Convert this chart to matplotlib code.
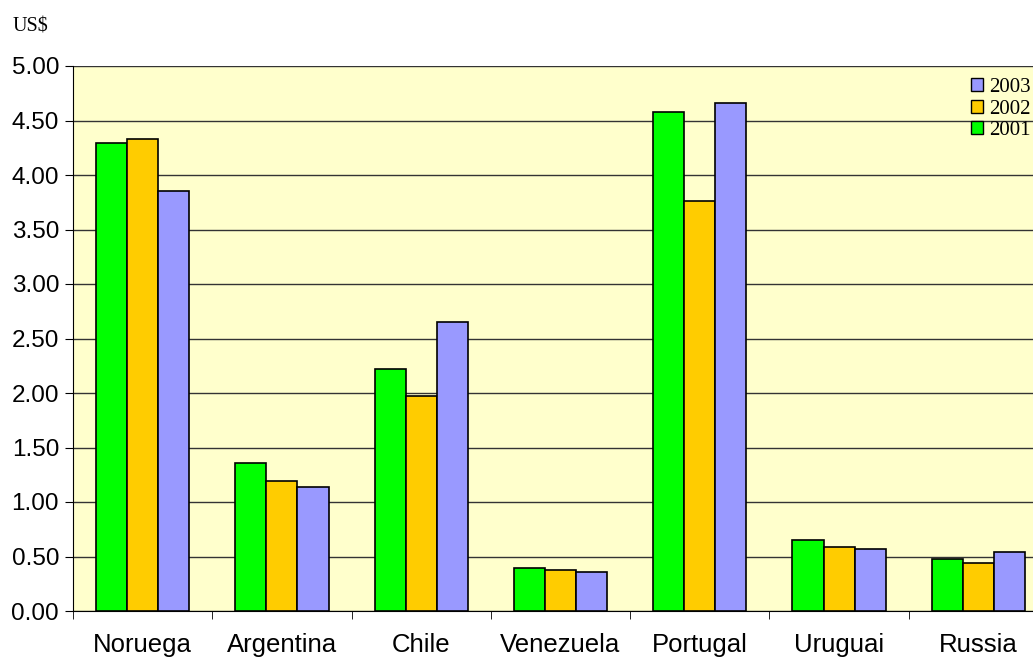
import numpy as np
import matplotlib.pyplot as plt
from matplotlib.patches import Patch

# =====================================
# DATA
# =====================================

countries = ["Noruega", "Argentina", "Chile", "Venezuela", "Portugal", "Uruguai", "Russia"]
years = ["2001", "2002", "2003"]

v2001 = [4.29, 1.36, 2.22, 0.39, 4.58, 0.65, 0.48]
v2002 = [4.33, 1.19, 1.97, 0.38, 3.76, 0.59, 0.44]
v2003 = [3.85, 1.14, 2.65, 0.36, 4.66, 0.57, 0.54]

colors = ["#00FF00", "#FFCC00", "#9999FF"]
yticks = np.arange(0, 5.01, 0.5)

# =====================================
# PLOT
# =====================================

fig = plt.figure(figsize=(10.33, 6.57), dpi=100)
ax = fig.add_axes([73/1033, 46/657, 975/1033, 545/657])
ax.set_facecolor("#FFFFCC")

x = np.arange(len(countries))
w = 0.223
for k, (vals, c) in enumerate(zip([v2001, v2002, v2003], colors)):
    ax.bar(x + (k - 1) * w, vals, width=w, color=c, edgecolor="black",
           linewidth=1.2, zorder=3)

ax.set_xlim(-0.5, len(countries) - 0.5)
ax.set_ylim(0, 5)
ax.set_yticks(yticks)
ax.set_yticklabels(["%.2f" % t for t in yticks], fontsize=17.5, family="Liberation Sans")
ax.yaxis.grid(True, color="#333333", linewidth=1, zorder=0)

ax.set_xticks(x)
ax.set_xticklabels(countries, fontsize=18.5, family="Liberation Sans")
ax.tick_params(axis="x", which="major", length=0, pad=16)
ax.set_xticks(np.arange(len(countries)) - 0.5, minor=True)
ax.tick_params(axis="x", which="minor", length=6, color="black")
ax.tick_params(axis="y", length=6, color="black", pad=4)

for s in ["top", "right"]:
    ax.spines[s].set_visible(False)
ax.spines["left"].set_color("black")
ax.spines["bottom"].set_color("black")

handles = [Patch(facecolor=c, edgecolor="black") for c in colors][::-1]
fig.legend(handles, years[::-1], loc="upper left", bbox_to_anchor=(0.930, 0.897),
           frameon=False, borderpad=0, handlelength=0.58, handleheight=0.58,
           handletextpad=0.3, labelspacing=0.12,
           prop={"family": "Liberation Serif", "size": 15})

fig.text(13/1033, 1 - 27/657, "US$", family="Liberation Serif", fontsize=14.5, va="center")

plt.savefig("out.png", dpi=100)
